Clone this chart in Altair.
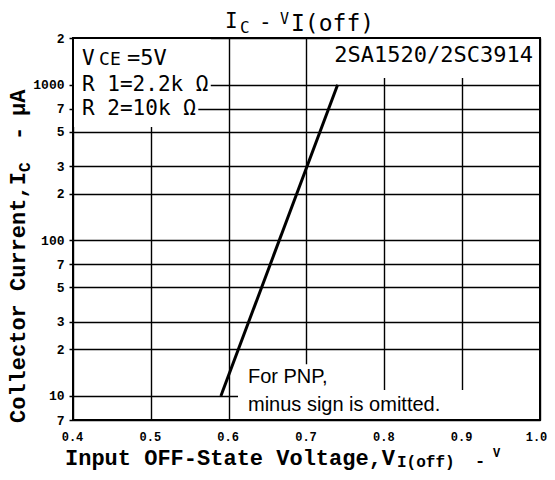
import altair as alt
import pandas as pd

# ---------------- data ----------------
curve_v = [0.59, 0.74]          # V_I(off), V
curve_ic = [10, 1000]           # I_C, uA

x_ticks = [0.4, 0.5, 0.6, 0.7, 0.8, 0.9, 1.0]
y_ticks = [7, 10, 20, 30, 50, 70, 100, 200, 300, 500, 700, 1000, 2000]
y_tick_labels = ["7", "10", "2", "3", "5", "7", "100", "2", "3", "5", "7", "1000", "2"]

# white boxes behind the notes (they hide the grid)
box_v1 = [0.4, 0.4, 0.73, 0.612, 0.612]
box_v2 = [0.577, 0.561, 1.0, 0.76, 1.0]
box_i1 = [835, 535, 1107, 7, 7]
box_i2 = [2000, 835, 2000, 16, 10.9]

# in-plot notes: text, volt, uA, font, size, align, baseline
notes = [
    ("V", 0.4116, 1340, "DejaVu Sans Mono", 21, "left", "alphabetic"),
    ("CE", 0.4335, 1340, "DejaVu Sans Mono", 18, "left", "alphabetic"),
    ("=5V", 0.4694, 1340, "DejaVu Sans Mono", 22, "left", "alphabetic"),
    ("R 1=2.2k Ω", 0.4116, 1000, "DejaVu Sans Mono", 21, "left", "middle"),
    ("R 2=10k Ω", 0.4116, 700, "DejaVu Sans Mono", 21, "left", "middle"),
    ("2SA1520/2SC3914", 0.991, 1403, "DejaVu Sans Mono", 22, "right", "alphabetic"),
    ("For PNP,", 0.6248, 12.1, "Liberation Sans", 20, "left", "alphabetic"),
    ("minus sign is omitted.", 0.6248, 8.0, "Liberation Sans", 20, "left", "alphabetic"),
]

# title / axis-title pieces: text, x px, y px, font, size, weight, angle
pieces = [
    ("I", 152, -10, "DejaVu Sans Mono", 21, "normal", 0),
    ("C", 167, -5, "DejaVu Sans Mono", 16, "normal", 0),
    ("-", 186, -9, "DejaVu Sans Mono", 21, "normal", 0),
    ("V", 207, -14, "DejaVu Sans Mono", 15, "normal", 0),
    ("I(off)", 218, -7, "DejaVu Sans Mono", 23, "normal", 0),
    ("Input OFF-State Voltage,V", -8, 427, "Liberation Mono", 22, "bold", 0),
    ("I(off)", 324, 429, "Liberation Mono", 16, "bold", 0),
    ("-", 402, 428, "Liberation Mono", 17, "bold", 0),
    ("V", 420, 419, "Liberation Mono", 12, "bold", 0),
    ("Collector Current,I", -48, 385, "Liberation Mono", 22, "bold", 270),
    ("C", -43, 134, "Liberation Mono", 16, "bold", 270),
    ("-", -48, 102, "Liberation Mono", 22, "bold", 270),
    ("μA", -48, 78, "Liberation Mono", 22, "bold", 270),
]

W, H = 467, 382
xs = alt.Scale(domain=[0.4, 1.0], nice=False, zero=False)
ys = alt.Scale(type="log", domain=[7, 2000], nice=False)

label_expr = " : ".join(
    f"datum.value == {v} ? '{l}'" for v, l in zip(y_ticks, y_tick_labels)
) + " : ''"

x_axis = alt.Axis(values=x_ticks, format=".1f", grid=True, gridColor="black",
                  gridWidth=1.4, gridOpacity=1, ticks=False, domain=False,
                  labelFont="Liberation Mono", labelFontWeight="bold",
                  labelFontSize=12, labelColor="black", labelPadding=11,
                  labelOffset={"condition": {"test": "datum.value >= 0.99",
                                             "value": -4}, "value": -1},
                  labelFlush=False, labelOverlap=False, title=None)
y_axis = alt.Axis(values=y_ticks, labelExpr=label_expr, grid=True,
                  gridColor="black", gridWidth=1.4, gridOpacity=1,
                  ticks=True, tickSize=4, tickColor="black", tickWidth=1.5,
                  domain=False, labelFont="Liberation Mono",
                  labelFontWeight="bold", labelFontSize=13, labelColor="black",
                  labelPadding=5, labelFlush=False, labelOverlap=False,
                  title=None)

boxes = pd.DataFrame({"x": box_v1, "x2": box_v2, "y": box_i1, "y2": box_i2})
mask = alt.Chart(boxes).mark_rect(color="white").encode(
    x=alt.X("x:Q", scale=xs, axis=x_axis),
    x2="x2",
    y=alt.Y("y:Q", scale=ys, axis=y_axis),
    y2="y2",
)

frame_df = pd.DataFrame({"x": [0.4], "x2": [1.0], "y": [7], "y2": [2000]})
frame = alt.Chart(frame_df).mark_rect(filled=False, stroke="black",
                                      strokeWidth=2).encode(
    x="x:Q", x2="x2", y="y:Q", y2="y2")

curve = alt.Chart(pd.DataFrame({"x": curve_v, "y": curve_ic})).mark_line(
    color="black", strokeWidth=3).encode(x="x:Q", y="y:Q")

layers = [mask, frame, curve]

for t, v, i, font, size, align, base in notes:
    layers.append(
        alt.Chart(pd.DataFrame({"x": [v], "y": [i], "t": [t]})).mark_text(
            font=font, fontSize=size, align=align, baseline=base,
            color="black").encode(x="x:Q", y="y:Q", text="t:N"))

for t, px, py, font, size, weight, ang in pieces:
    kw = dict(font=font, fontSize=size, fontWeight=weight, align="left",
              baseline="alphabetic", color="black")
    if ang:
        kw["angle"] = ang
    layers.append(
        alt.Chart(pd.DataFrame({"t": [t]})).mark_text(**kw).encode(
            x=alt.value(px), y=alt.value(py), text="t:N"))

chart = alt.layer(*layers).properties(
    width=W, height=H,
    autosize=alt.AutoSizeParams(type="none"),
    padding={"left": 65, "top": 30, "right": 7, "bottom": 52},
    background="white",
).configure_view(stroke=None)

chart.save("out.html", embed_options={"renderer": "svg", "actions": False})
